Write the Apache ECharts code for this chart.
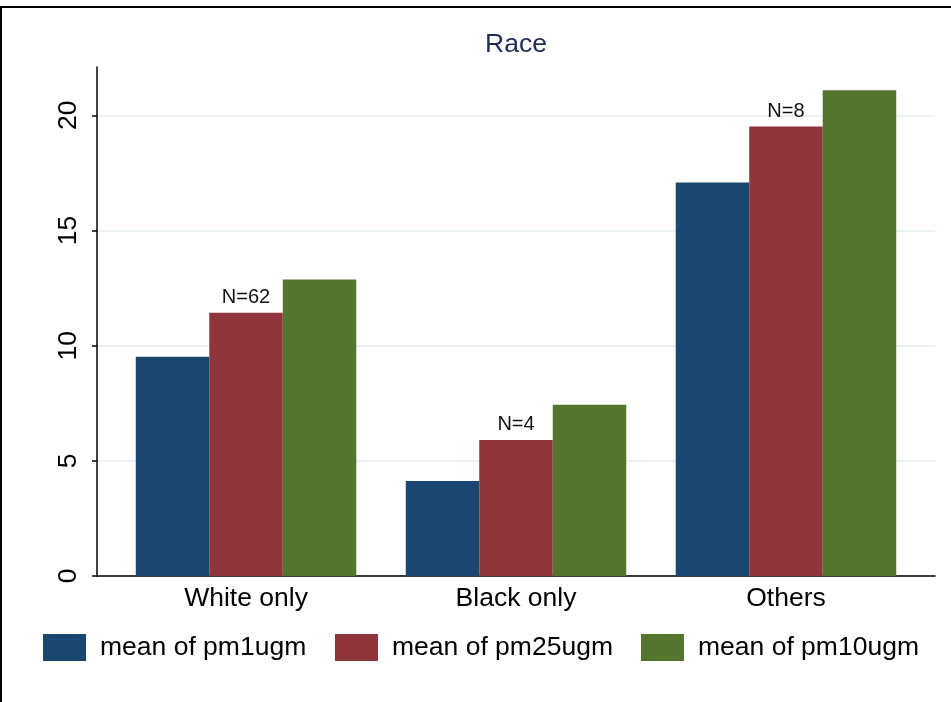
<!DOCTYPE html>
<html>
<head>
<meta charset="utf-8">
<script src="https://cdn.jsdelivr.net/npm/echarts@6/dist/echarts.min.js"></script>
<style>
  html, body { margin: 0; padding: 0; background: #fff; }
  #chart { width: 951px; height: 702px; }
</style>
</head>
<body>
<div id="chart"></div>
<script>
// data
const categories = ['White only', 'Black only', 'Others'];
const seriesNames = ['mean of pm1ugm', 'mean of pm25ugm', 'mean of pm10ugm'];
const pm1 = [9.52, 4.13, 17.09];
const pm25 = [11.43, 5.91, 19.52];
const pm10 = [12.87, 7.43, 21.09];
const nLabels = ['N=62', 'N=4', 'N=8'];
const yTicks = [0, 5, 10, 15, 20];

const colors = ['#1a476f', '#90353b', '#55752f'];
const font = 'Liberation Sans';

const chart = echarts.init(document.getElementById('chart'));

// bars sit on a value x axis at 0,1,2 so the outer gaps match stata's
const toPoints = arr => arr.map((v, i) => [i, v]);

const legendLefts = [43, 335, 641];
const legends = seriesNames.map((name, i) => ({
  data: [name],
  left: legendLefts[i],
  top: 634,
  padding: 0,
  itemWidth: 43,
  itemHeight: 27,
  icon: 'rect',
  selectedMode: false,
  textStyle: { fontFamily: font, fontSize: 26.5, color: '#000', padding: [0, 0, 0, 9] },
}));

const option = {
  animation: false,
  backgroundColor: '#fff',
  color: colors,
  title: {
    text: 'Race',
    left: 485,
    top: 31,
    padding: 0,
    textStyle: { fontFamily: font, fontSize: 26.5, fontWeight: 'normal', color: '#1e2d53' },
  },
  legend: legends,
  grid: { left: 97, right: 16, top: 67, bottom: 126 },
  xAxis: {
    type: 'value',
    min: -0.552,
    max: 2.552,
    interval: 1,
    splitLine: { show: false },
    axisLine: { show: true, onZero: false, lineStyle: { color: '#000', width: 1.5 } },
    axisTick: { show: false },
    axisLabel: {
      customValues: [0, 1, 2],
      formatter: v => categories[Math.round(v)] || '',
      fontFamily: font,
      fontSize: 26.5,
      color: '#000',
      margin: 9,
    },
  },
  yAxis: {
    type: 'value',
    min: 0,
    max: 22.1,
    interval: 5,
    axisLine: { show: true, onZero: false, lineStyle: { color: '#000', width: 1.5 } },
    axisTick: { show: true, length: 5, customValues: yTicks, lineStyle: { color: '#000', width: 1.5 } },
    axisLabel: {
      customValues: yTicks,
      rotate: 90,
      fontFamily: font,
      fontSize: 26.5,
      color: '#000',
      margin: 15,
    },
    splitLine: { show: true, lineStyle: { color: '#eaf2f3', width: 2 } },
  },
  series: [
    {
      name: seriesNames[0],
      type: 'bar',
      barWidth: 73.5,
      barGap: '0%',
      data: toPoints(pm1),
    },
    {
      name: seriesNames[1],
      type: 'bar',
      barWidth: 73.5,
      barGap: '0%',
      data: toPoints(pm25),
      label: {
        show: true,
        position: 'top',
        distance: 5,
        formatter: p => nLabels[p.dataIndex],
        fontFamily: font,
        fontSize: 20,
        color: '#111',
      },
    },
    {
      name: seriesNames[2],
      type: 'bar',
      barWidth: 73.5,
      barGap: '0%',
      data: toPoints(pm10),
    },
  ],
  graphic: [
    {
      type: 'polyline',
      silent: true,
      shape: { points: [[951, 7], [1, 7], [1, 702]] },
      style: { stroke: '#000', lineWidth: 2, fill: null },
    },
  ],
};

chart.setOption(option);
</script>
</body>
</html>
